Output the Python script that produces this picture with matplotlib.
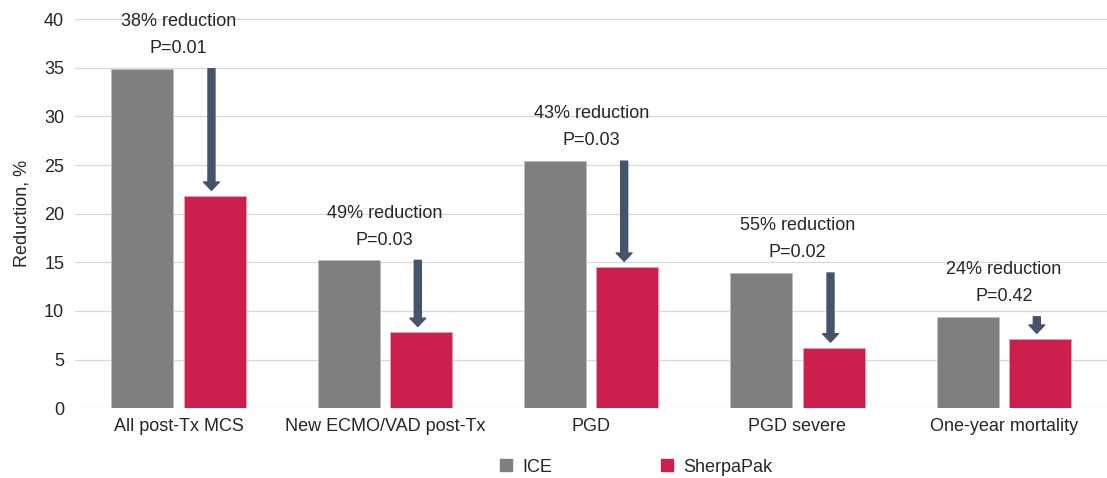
import numpy as np
import matplotlib
matplotlib.use("Agg")
import matplotlib.pyplot as plt
from matplotlib.patches import Patch

categories = ["All post-Tx MCS", "New ECMO/VAD post-Tx", "PGD", "PGD severe", "One-year mortality"]
ice = [34.9, 15.2, 25.4, 13.9, 9.4]
sherpapak = [21.8, 7.8, 14.5, 6.2, 7.1]
reductions = ["38% reduction", "49% reduction", "43% reduction", "55% reduction", "24% reduction"]
pvalues = ["P=0.01", "P=0.03", "P=0.03", "P=0.02", "P=0.42"]

plt.rcParams['font.family'] = ['Liberation Sans', 'DejaVu Sans']
text_col = '#262626'
gray = '#7F7F7F'
red = '#CC1F4B'
arrow_col = '#44546A'
fs = 13

fig = plt.figure(figsize=(11.07, 4.78), dpi=100)
ax = fig.add_axes([0.068, 0.146, 0.932, 0.814])

x = np.arange(len(categories))
w = 0.30
ax.bar(x - 0.175, ice, w, color=gray, edgecolor='#bfbfbf', linewidth=0.6, zorder=2)
ax.bar(x + 0.175, sherpapak, w, color=red, edgecolor='#e6a0b2', linewidth=0.6, zorder=2)

for i in range(len(categories)):
    ax.annotate('', xy=(x[i] + 0.16, sherpapak[i] + 0.6), xytext=(x[i] + 0.16, ice[i]),
                arrowprops=dict(arrowstyle='simple,head_length=0.5,head_width=0.95,tail_width=0.42',
                                mutation_scale=12, color=arrow_col, shrinkA=0, shrinkB=0),
                zorder=3)
    ax.annotate(pvalues[i], xy=(x[i], ice[i]), xytext=(0, 14.5), textcoords='offset points',
                ha='center', va='center', fontsize=fs, color=text_col)
    ax.annotate(reductions[i], xy=(x[i], ice[i]), xytext=(0, 34), textcoords='offset points',
                ha='center', va='center', fontsize=fs, color=text_col)

ax.set_xlim(-0.5, 4.5)
ax.set_ylim(0, 40)
ax.set_yticks(range(0, 41, 5))
ax.set_xticks(x)
ax.set_xticklabels(categories, fontsize=fs, color=text_col)
ax.tick_params(axis='y', labelsize=fs, labelcolor=text_col, length=0, pad=8)
ax.tick_params(axis='x', length=0, pad=7)
ax.grid(axis='y', color='#d9d9d9', linewidth=0.9, zorder=0)
ax.set_axisbelow(True)
for s in ax.spines.values():
    s.set_visible(False)
ax.set_ylabel('Reduction, %', fontsize=fs, color=text_col, labelpad=10)

handles = [Patch(color=gray, label='ICE'), Patch(color=red, label='SherpaPak')]
fig.legend(handles=handles, loc='center', bbox_to_anchor=(0.575, 0.023), ncol=2, frameon=False,
           fontsize=fs, handlelength=0.65, handleheight=0.65, handletextpad=0.6, columnspacing=6.0,
           labelcolor=text_col)

fig.savefig('out.png', dpi=100)
